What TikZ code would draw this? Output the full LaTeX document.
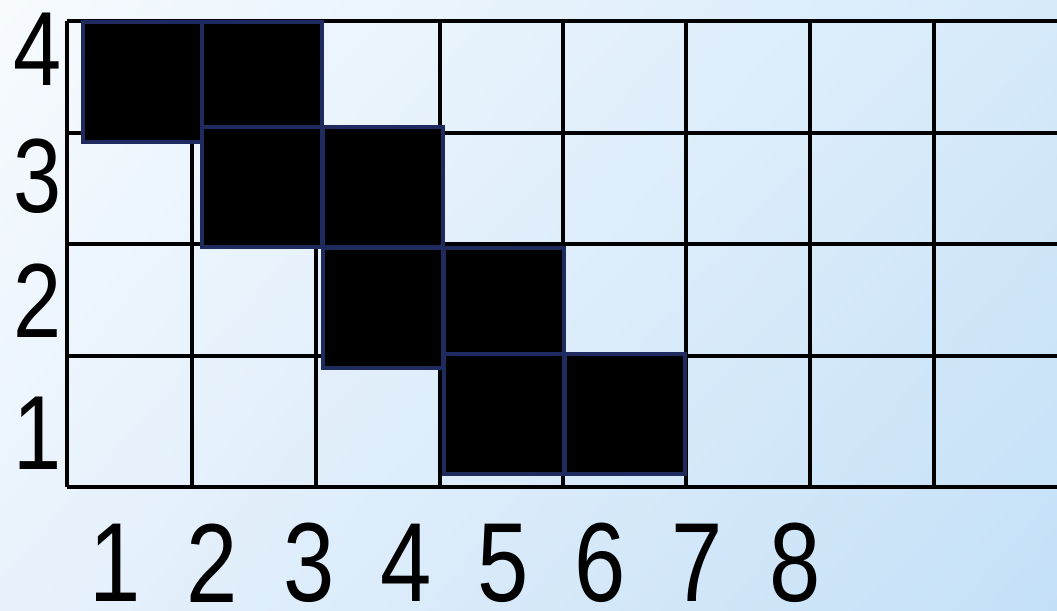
\documentclass[tikz,border=0pt]{standalone}
\usepackage{fontspec}
\usepackage{xcolor}
\usepackage{tikz}
\usetikzlibrary{shadings}
\newfontfamily\numfont[FakeStretch=0.82]{Liberation Sans}
\definecolor{bgTL}{HTML}{F7FBFE}
\definecolor{bgTR}{HTML}{D6EAFA}
\definecolor{bgBL}{HTML}{E8F2FC}
\definecolor{bgBR}{HTML}{C4E0F7}
\definecolor{cellrim}{HTML}{1F2B5E}

\begin{document}
\begin{tikzpicture}[
            x=0.02cm, y=-0.02cm,
            gridline/.style={draw=black,line width=0.065cm},
            cellbox/.style={fill=black,draw=cellrim,line width=0.07cm},
            rowlabel/.style={inner sep=0pt,font=\numfont\fontsize{60}{60}\selectfont},
            collabel/.style={inner sep=0pt,font=\numfont\fontsize{64}{64}\selectfont}
        ]
            \useasboundingbox (0,0) rectangle (1057,611);
            \shade[upper left=bgTL,upper right=bgTR,lower left=bgBL,lower right=bgBR] (0,0) rectangle (1057,611);

            \foreach \x in {67,192,316,440,563,686,810,934}
                \draw[gridline] (\x,21) -- (\x,487);
            \foreach \y in {21,133,244,356,487}
                \draw[gridline] (67,\y) -- (1057,\y);

            \foreach \x/\y in {83/22,202/22,202/127,323/127,323/248,444/248,444/354,565/354}
                \draw[cellbox] (\x,\y) rectangle ++(120,120);

            \foreach \n/\x/\y in {4/38/49,3/38/176,2/38/301,1/38/433}
                \node[rowlabel] (row\n) at (\x,\y) {\n};
            \foreach \n/\x in {1/115,2/212,3/309,4/406,5/503,6/600,7/697,8/795}
                \node[collabel] (col\n) at (\x,563) {\n};
        \end{tikzpicture}
\end{document}
